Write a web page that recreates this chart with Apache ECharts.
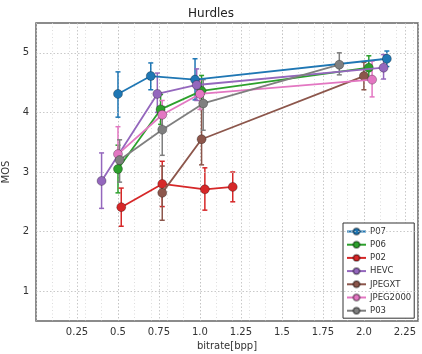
<!DOCTYPE html>
<html>
<head>
<meta charset="utf-8">
<script src="https://cdn.jsdelivr.net/npm/echarts@6/dist/echarts.min.js"></script>
<style>
  html, body { margin: 0; padding: 0; background: #fff; }
  #chart { width: 422px; height: 354px; }
</style>
</head>
<body>
<div id="chart"></div>
<script>
// values
const names = ['P07', 'P06', 'P02', 'HEVC', 'JPEGXT', 'JPEG2000', 'P03']
const colors = ['#1f77b4', '#2ca02c', '#d62728', '#9467bd', '#8c564b', '#e377c2', '#7f7f7f']

const p07Rate = [0.50, 0.70, 0.97, 2.14]
const p07Mos = [4.31, 4.61, 4.55, 4.90]
const p07Lo = [3.92, 4.38, 4.21, 4.77]
const p07Hi = [4.68, 4.83, 4.90, 5.03]

const p06Rate = [0.50, 0.76, 1.01, 2.03]
const p06Mos = [3.05, 4.05, 4.36, 4.75]
const p06Lo = [2.65, 3.80, 4.10, 4.55]
const p06Hi = [3.45, 4.30, 4.62, 4.95]

const p02Rate = [0.52, 0.77, 1.03, 1.20]
const p02Mos = [2.41, 2.80, 2.71, 2.75]
const p02Lo = [2.09, 2.42, 2.36, 2.50]
const p02Hi = [2.73, 3.18, 3.07, 3.00]

const hevcRate = [0.40, 0.74, 0.98, 2.12]
const hevcMos = [2.85, 4.31, 4.46, 4.75]
const hevcLo = [2.39, 4.00, 4.20, 4.56]
const hevcHi = [3.32, 4.66, 4.73, 4.97]

const jxtRate = [0.77, 1.01, 2.00]
const jxtMos = [2.65, 3.55, 4.61]
const jxtLo = [2.19, 3.12, 4.38]
const jxtHi = [3.10, 4.05, 4.84]

const j2kRate = [0.50, 0.77, 1.00, 2.05]
const j2kMos = [3.30, 3.96, 4.31, 4.55]
const j2kLo = [3.00, 3.70, 4.05, 4.26]
const j2kHi = [3.76, 4.20, 4.55, 4.86]

const p03Rate = [0.51, 0.77, 1.02, 1.85]
const p03Mos = [3.20, 3.71, 4.15, 4.80]
const p03Lo = [2.83, 3.28, 3.70, 4.63]
const p03Hi = [3.54, 4.10, 4.55, 5.00]

const xTicks = [0.25, 0.5, 0.75, 1.0, 1.25, 1.5, 1.75, 2.0, 2.25]
const yTicks = [1, 2, 3, 4, 5]

const groups = [
  [p07Rate, p07Mos, p07Lo, p07Hi],
  [p06Rate, p06Mos, p06Lo, p06Hi],
  [p02Rate, p02Mos, p02Lo, p02Hi],
  [hevcRate, hevcMos, hevcLo, hevcHi],
  [jxtRate, jxtMos, jxtLo, jxtHi],
  [j2kRate, j2kMos, j2kLo, j2kHi],
  [p03Rate, p03Mos, p03Lo, p03Hi]
]

const gridDots = { type: [1.5, 2], color: '#bbb', width: 0.8 }

function errorBar (color) {
  return function (params, api) {
    const top = api.coord([api.value(0), api.value(2)])
    const bot = api.coord([api.value(0), api.value(1)])
    const style = { stroke: color, lineWidth: 1.5 }
    return {
      type: 'group',
      children: [
        { type: 'line', shape: { x1: top[0], y1: top[1], x2: bot[0], y2: bot[1] }, style: style },
        { type: 'line', shape: { x1: top[0] - 2.5, y1: top[1], x2: top[0] + 2.5, y2: top[1] }, style: style },
        { type: 'line', shape: { x1: bot[0] - 2.5, y1: bot[1], x2: bot[0] + 2.5, y2: bot[1] }, style: style }
      ]
    }
  }
}

const series = []
// horizontal grid lines at the integer ticks, plus the minor vertical grid (x axis 1)
series.push({
  name: 'ygrid',
  type: 'line',
  xAxisIndex: 1,
  data: [],
  silent: true,
  markLine: {
    silent: true,
    symbol: 'none',
    label: { show: false },
    lineStyle: gridDots,
    data: yTicks.map(function (v) { return { yAxis: v } })
  },
  z: 1
})
groups.forEach(function (g, i) {
  series.push({
    name: names[i] + ' err',
    type: 'custom',
    renderItem: errorBar(colors[i]),
    data: g[0].map(function (x, k) { return [x, g[2][k], g[3][k]] }),
    encode: { x: 0, y: [1, 2] },
    itemStyle: { color: colors[i] },
    z: 2 + i,
    silent: true
  })
})
groups.forEach(function (g, i) {
  series.push({
    name: names[i],
    type: 'line',
    data: g[0].map(function (x, k) { return [x, g[1][k]] }),
    color: colors[i],
    symbol: 'circle',
    symbolSize: 9,
    lineStyle: { width: 1.8, color: colors[i] },
    itemStyle: { color: colors[i], borderColor: 'rgba(0,0,0,0.35)', borderWidth: 0.8 },
    z: 10 + i
  })
})

const chart = echarts.init(document.getElementById('chart'))
chart.setOption({
  animation: false,
  backgroundColor: '#fff',
  textStyle: { fontFamily: 'DejaVu Sans' },
  title: {
    text: 'Hurdles',
    left: 'center',
    top: 3,
    textStyle: { fontSize: 12, fontWeight: 'normal', color: '#222' }
  },
  grid: {
    left: 36,
    right: 4,
    top: 23,
    bottom: 33,
    outerBoundsMode: 'none',
    containLabel: false,
    show: true,
    borderColor: '#666',
    borderWidth: 1.5
  },
  legend: {
    data: names,
    orient: 'vertical',
    left: 343,
    top: 223,
    itemWidth: 19,
    itemHeight: 8,
    itemGap: 4.2,
    padding: [4, 3, 3, 3],
    backgroundColor: '#fff',
    borderColor: '#333',
    borderWidth: 1,
    textStyle: { fontSize: 8.5, color: '#333', padding: [0, 0, 0, -1] }
  },
  xAxis: [
    {
      type: 'value',
      min: 0,
      max: 2.33,
      interval: 0.25,
      name: 'bitrate[bpp]',
      nameLocation: 'middle',
      nameGap: 19,
      nameTextStyle: { fontSize: 10, color: '#333' },
      axisLine: { show: false },
      axisTick: { show: false },
      axisLabel: {
        fontSize: 10,
        color: '#333',
        margin: 6,
        showMinLabel: false,
        showMaxLabel: false,
        formatter: function (v) {
          const t = xTicks.find(function (s) { return Math.abs(s - v) < 1e-6 })
          if (t === undefined) return ''
          return Number.isInteger(t) ? t.toFixed(1) : String(t)
        }
      },
      splitLine: { show: true, lineStyle: gridDots },
      z: 1
    },
    {
      type: 'value',
      min: 0,
      max: 2.33,
      interval: 0.1,
      show: true,
      axisLine: { show: false },
      axisTick: { show: false },
      axisLabel: { show: false },
      splitLine: { show: true, lineStyle: { type: [1, 2.5], color: '#d4d4d4', width: 0.8 } }
    }
  ],
  yAxis: {
    type: 'value',
    min: 0.5,
    max: 5.5,
    interval: 0.5,
    name: 'MOS',
    nameLocation: 'middle',
    nameGap: 22,
    nameTextStyle: { fontSize: 10, color: '#333' },
    axisLine: { show: false },
    axisTick: { show: false },
    axisLabel: {
      fontSize: 10,
      color: '#333',
      margin: 7,
      formatter: function (v) {
        return yTicks.indexOf(v) >= 0 ? String(v) : ''
      }
    },
    splitLine: { show: false }
  },
  series: series
})
</script>
</body>
</html>
